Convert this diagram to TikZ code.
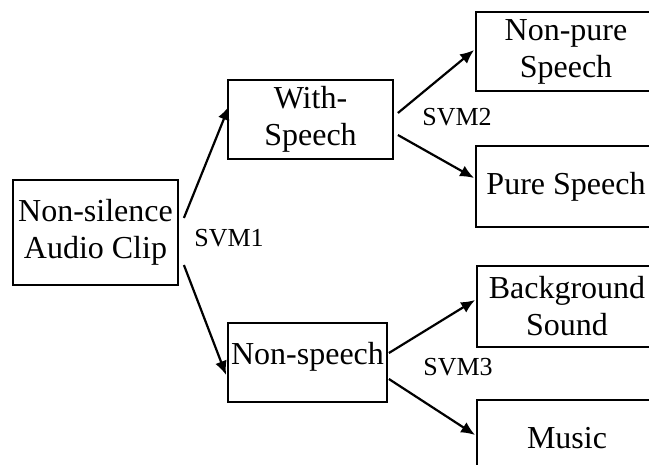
\documentclass[tikz,border=0pt]{standalone}
\usepackage{fontspec}
\setmainfont{Liberation Serif}
\usetikzlibrary{arrows.meta}

\begin{document}
\begin{tikzpicture}[x=1pt, y=-1pt,
		box_style/.style={rectangle,draw=black,line width=1.8pt,align=center,inner sep=0pt,
			font=\fontsize{32}{37}\selectfont},
		svm_style/.style={font=\fontsize{26}{30}\selectfont,inner sep=0pt},
		edge_style/.style={draw=black,line width=2.2pt,-{Latex[length=14pt,width=12pt]}}]
		
		\useasboundingbox (0,0) rectangle (649,464);
		\clip (0,0) rectangle (649,464);
		
		\node[box_style,minimum width=165pt,minimum height=105pt] (clip) at (95.5,232.5) {Non-silence\\Audio Clip};
		\node[box_style,minimum width=165pt,minimum height=79pt] (withs) at (310.5,119.5) {With-\\Speech};
		\node[box_style,minimum width=159pt,minimum height=79pt,text depth=19pt] (nonsp) at (307.5,362.5) {Non-speech};
		\node[box_style,minimum width=180pt,minimum height=79pt] (npure) at (566,51.5) {Non-pure\\Speech};
		\node[box_style,minimum width=180pt,minimum height=81pt] (pure) at (566,186.5) {Pure Speech};
		\node[box_style,minimum width=180pt,minimum height=81pt] (bgs) at (567,306.5) {Background\\Sound};
		\node[box_style,minimum width=180pt,minimum height=76pt] (music) at (567,438) {Music};
		
		\node[svm_style] (svm1) at (229,238) {SVM1};
		\node[svm_style] (svm2) at (457,117) {SVM2};
		\node[svm_style] (svm3) at (458,367) {SVM3};
		
		\draw[edge_style] ([shift={(5,-14.5)}]clip.east) -- ([shift={(2,-13.5)}]withs.west);
		\draw[edge_style] ([shift={(5,32.5)}]clip.east) -- ([shift={(-1,12.5)}]nonsp.west);
		\draw[edge_style] ([shift={(4,-6.5)}]withs.east) -- ([shift={(-1,-1.5)}]npure.west);
		\draw[edge_style] ([shift={(4,15.5)}]withs.east) -- ([shift={(-1,-8.5)}]pure.west);
		\draw[edge_style] ([shift={(1,-9.5)}]nonsp.east) -- ([shift={(-1,-6.5)}]bgs.west);
		\draw[edge_style] ([shift={(1,16.5)}]nonsp.east) -- ([shift={(-1,-3)}]music.west);
		
\end{tikzpicture}
\end{document}
